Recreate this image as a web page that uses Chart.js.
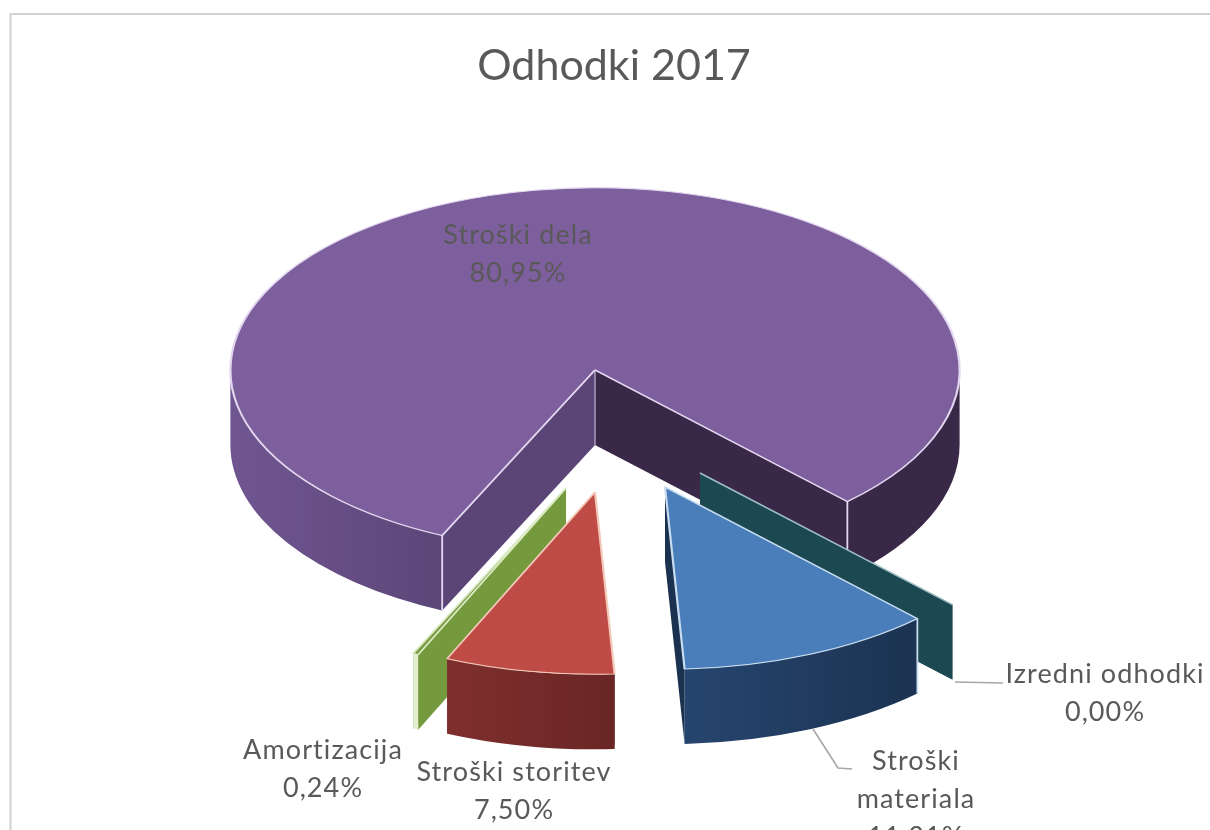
<!DOCTYPE html>
<html>
<head>
<meta charset="utf-8">
<style>
html,body{margin:0;padding:0;background:#fff;overflow:hidden}
#wrap{position:relative;width:1210px;height:830px}
</style>
<script src="https://cdn.jsdelivr.net/npm/chart.js@4/dist/chart.umd.min.js"></script>
</head>
<body>
<div id="wrap"><canvas id="c"></canvas></div>
<script>
// ---- data ----
const chartTitle = 'Odhodki 2017';
const categories = ['Izredni odhodki', 'Stroški materiala', 'Stroški storitev', 'Amortizacija', 'Stroški dela'];
const shares = [0.00, 11.31, 7.50, 0.24, 80.95];

// ---- styles ----
const topColors = ['#1c4851', '#4a7ebb', '#bf4b46', '#7a9c44', '#7e5f9e'];
const edgeColors = ['#9fc0c6', '#c8ddf0', '#f3c9b8', '#dcebc4', '#e3d8f0'];
const wallLeft = ['#1c4851', '#26456e', '#7f2f2d', '#e4efd2', '#705691'];
const wallRight = ['#1c4851', '#1c3352', '#692625', '#e4efd2', '#5c4678'];
const faceStartColors = ['#1c4851', '#1a3150', '#6f2a28', '#759a3e', '#5b4577'];
const faceEndColors = ['#1c4851', '#1a3150', '#6f2a28', '#759a3e', '#3a2848'];
const rimRightColor = '#3a2848';
const seamed = [false, true, false, false, true];

// ---- 3D layout ----
const pieCentre = {x: 595, y: 370};
const squash = 0.5;
const depth = 75;
const startDeg = 46.2;
const explode = [[105, 103], [70, 117], [0, 122], [-29, 118], [0, 0]];
const paintOrder = [4, 0, 3, 1, 2];
const labelAt = [[1105, 674], [916, 761], [514, 772], [323, 750], [518, 235]];
const wrapName = [false, true, false, false, false];
const lineStep = 38;
const leaders = [[[955, 682], [1003, 683]], [[813, 729], [838, 768], [852, 769]]];

function fmt(v) { return v.toFixed(2).replace('.', ',') + '%'; }

const pie3d = {
  id: 'pie3d',
  beforeDraw(chart) {
    const c = chart.ctx;
    c.save();
    c.fillStyle = '#fff';
    c.fillRect(0, 0, chart.width, chart.height);
    c.strokeStyle = '#d2d2d2';
    c.lineWidth = 2;
    c.beginPath();
    c.moveTo(10.5, chart.height);
    c.lineTo(10.5, 14);
    c.lineTo(chart.width, 14);
    c.stroke();
    c.restore();
  },
  beforeDatasetDraw(chart, args) {
    const c = chart.ctx;
    const meta = args.meta;
    paintOrder.forEach(i => {
      const el = meta.data[i];
      const R = el.outerRadius;
      const tx = pieCentre.x + explode[i][0];
      const ty = pieCentre.y + explode[i][1];
      const a0 = el.startAngle, a1 = el.endAngle;
      const px = a => tx + R * Math.cos(a);
      const py = a => ty + R * squash * Math.sin(a);

      const face = (a, color) => {
        c.fillStyle = color;
        c.beginPath();
        c.moveTo(tx, ty);
        c.lineTo(px(a), py(a));
        c.lineTo(px(a), py(a) + depth);
        c.lineTo(tx, ty + depth);
        c.closePath();
        c.fill();
      };
      const rim = (from, to, fill) => {
        c.fillStyle = fill;
        c.beginPath();
        c.ellipse(tx, ty, R, R * squash, 0, from, to);
        c.ellipse(tx, ty + depth, R, R * squash, 0, to, from, true);
        c.closePath();
        c.fill();
      };
      // cut faces
      face(a1, faceEndColors[i]);
      face(a0, faceStartColors[i]);
      // outer rim: only the parts of the arc turned to the viewer
      const TAU = Math.PI * 2;
      const spans = [];
      for (const k of [0, 1]) {
        const lo = Math.max(a0, k * TAU), hi = Math.min(a1, k * TAU + Math.PI);
        if (hi > lo) spans.push([lo, hi]);
      }
      spans.forEach(([lo, hi]) => {
        const xa = Math.min(px(lo), px(hi)), xb = Math.max(px(lo), px(hi));
        const g = c.createLinearGradient(xa, 0, xb, 0);
        const dark = (hi > TAU) && i === 4;
        g.addColorStop(0, dark ? rimRightColor : wallLeft[i]);
        g.addColorStop(1, dark ? rimRightColor : wallRight[i]);
        rim(lo, hi, g);
      });
      // vertical light seams at the edges
      if (seamed[i]) {
        c.strokeStyle = edgeColors[i];
        c.lineWidth = 1.8;
        [a0, a1].forEach(a => {
          if (Math.sin(a) > 0 && (i === 4 || a === a0)) {
            c.beginPath();
            c.moveTo(px(a), py(a));
            c.lineTo(px(a), py(a) + depth);
            c.stroke();
          }
        });
      }
      if (i === 4) {
        c.strokeStyle = '#a99bbd';
        c.lineWidth = 1.5;
        c.beginPath();
        c.moveTo(tx, ty);
        c.lineTo(tx, ty + depth);
        c.stroke();
      }
      // zero-size slice keeps a light line on its upper edge
      if (el.circumference === 0) {
        c.strokeStyle = edgeColors[i];
        c.lineWidth = 1.5;
        c.beginPath();
        c.moveTo(tx, ty);
        c.lineTo(px(a0), py(a0));
        c.stroke();
      }
      // top surface: the library's own arc element, flattened
      c.save();
      c.translate(tx, ty);
      c.scale(1, squash);
      c.translate(-el.x, -el.y);
      el.draw(c);
      c.restore();
    });
    return false;
  },
  afterDraw(chart) {
    const c = chart.ctx;
    c.save();
    c.strokeStyle = '#a6a6a6';
    c.lineWidth = 1.6;
    leaders.forEach(pts => {
      c.beginPath();
      pts.forEach((p, k) => k ? c.lineTo(p[0], p[1]) : c.moveTo(p[0], p[1]));
      c.stroke();
    });
    c.fillStyle = '#595959';
    c.font = '27px Lato';
    c.letterSpacing = '1.1px';
    c.textAlign = 'center';
    c.textBaseline = 'middle';
    categories.forEach((name, i) => {
      const lines = (wrapName[i] ? name.split(' ') : [name]).concat(fmt(shares[i]));
      lines.forEach((t, k) => c.fillText(t, labelAt[i][0], labelAt[i][1] + k * lineStep));
    });
    c.restore();
  }
};

new Chart(document.getElementById('c'), {
  type: 'pie',
  plugins: [pie3d],
  data: {
    labels: categories,
    datasets: [{
      data: shares,
      backgroundColor: topColors,
      borderColor: edgeColors,
      borderWidth: 2.2
    }]
  },
  options: {
    responsive: true,
    maintainAspectRatio: false,
    animation: false,
    events: [],
    rotation: startDeg + 90,
    layout: {padding: {left: 18}},
    plugins: {
      legend: {display: false},
      tooltip: {enabled: false},
      title: {
        display: true,
        text: chartTitle,
        color: '#595959',
        font: {family: 'Lato', size: 43, weight: 'normal', lineHeight: 1.2},
        padding: {top: 40, bottom: 7}
      }
    }
  }
});
</script>
</body>
</html>
